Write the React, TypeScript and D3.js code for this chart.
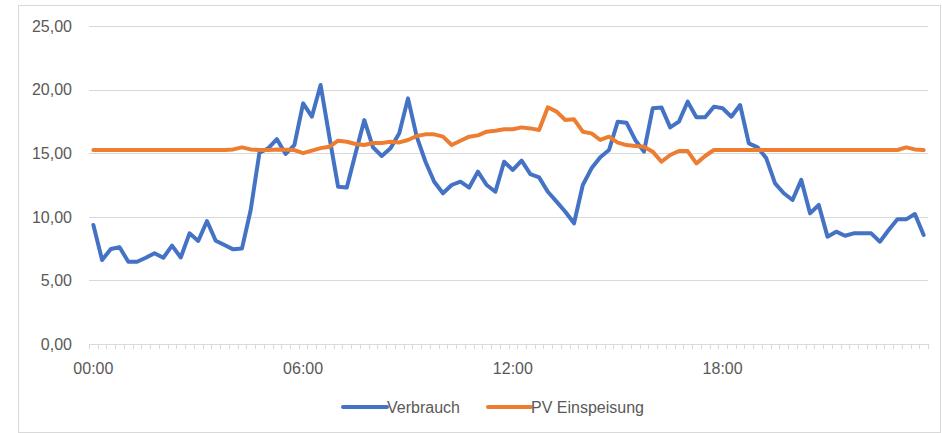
import React from "react";
import * as d3 from "d3";

const categories: string[] = d3.range(96).map((i) => {
  const h = Math.floor(i / 4);
  const m = (i % 4) * 15;
  return `${String(h).padStart(2, "0")}:${String(m).padStart(2, "0")}`;
});

const xTickLabels = ["00:00", "06:00", "12:00", "18:00"];
const yTicks = [0, 5, 10, 15, 20, 25];

const verbrauch = [
  9.36, 6.6, 7.47, 7.6, 6.47, 6.47, 6.78, 7.13, 6.78, 7.73,
  6.8, 8.7, 8.1, 9.67, 8.12, 7.78, 7.44, 7.5, 10.53, 15.04,
  15.38, 16.1, 14.94, 15.64, 18.92, 17.87, 20.36, 16.3, 12.37, 12.3,
  15.0, 17.6, 15.46, 14.78, 15.38, 16.56, 19.31, 16.3, 14.33, 12.76,
  11.85, 12.5, 12.76, 12.3, 13.55, 12.5, 11.97, 14.33, 13.68, 14.41,
  13.36, 13.1, 11.97, 11.19, 10.4, 9.49, 12.5, 13.81, 14.68, 15.25,
  17.48, 17.4, 16.04, 15.12, 18.53, 18.6, 17.03, 17.48, 19.05, 17.82,
  17.82, 18.66, 18.53, 17.87, 18.79, 15.77, 15.46, 14.6, 12.63, 11.85,
  11.32, 12.9, 10.27, 10.93, 8.44, 8.83, 8.51, 8.7, 8.7, 8.7,
  8.04, 8.96, 9.8, 9.8, 10.22, 8.57,
];

const pvEinspeisung = [
  15.25, 15.25, 15.25, 15.25, 15.25, 15.25, 15.25, 15.25, 15.25, 15.25,
  15.25, 15.25, 15.25, 15.25, 15.25, 15.25, 15.3, 15.46, 15.3, 15.25,
  15.25, 15.3, 15.28, 15.25, 15.0, 15.2, 15.4, 15.5, 15.98, 15.9,
  15.72, 15.64, 15.8, 15.8, 15.9, 15.85, 16.04, 16.35, 16.48, 16.48,
  16.3, 15.64, 15.98, 16.3, 16.4, 16.69, 16.77, 16.88, 16.88, 17.03,
  16.95, 16.82, 18.61, 18.27, 17.61, 17.66, 16.69, 16.56, 16.04, 16.3,
  15.83, 15.64, 15.57, 15.51, 15.12, 14.33, 14.86, 15.17, 15.17, 14.2,
  14.78, 15.25, 15.25, 15.25, 15.25, 15.25, 15.25, 15.25, 15.25, 15.25,
  15.25, 15.25, 15.25, 15.25, 15.25, 15.25, 15.25, 15.25, 15.25, 15.25,
  15.25, 15.25, 15.25, 15.46, 15.3, 15.25,
];

const seriesNames = ["Verbrauch", "PV Einspeisung"];
const seriesColors = ["#4472C4", "#ED7D31"];

const W = 942;
const H = 433;
const FONT = "'Liberation Sans', Arial, sans-serif";
const TEXT = "#595959";

export default function App() {
  const x0 = 89;
  const x1 = 928;
  const x = d3.scalePoint<string>().domain(categories).range([x0, x1]).padding(0.5);
  const step = x.step();
  const y = d3.scaleLinear().domain([0, 25]).range([344, 26]);

  const line = d3
    .line<number>()
    .x((_, i) => x(categories[i]) as number)
    .y((d) => y(d));

  const series = [verbrauch, pvEinspeisung];
  const fmt = (v: number) => v.toFixed(2).replace(".", ",");

  const legendItems = [
    { lx: 343, tx: 387 },
    { lx: 488, tx: 531 },
  ];

  return (
    <svg
      width={W}
      height={H}
      style={{ position: "absolute", left: 0, top: 0, background: "#fff" }}
      fontFamily={FONT}
    >
      <rect x={18.5} y={5.5} width={922} height={427} fill="#fff" stroke="#d9d9d9" strokeWidth={1} />
      {yTicks.slice(1).map((t) => (
        <line key={t} x1={x0} x2={x1} y1={Math.round(y(t)) + 0.5} y2={Math.round(y(t)) + 0.5} stroke="#d9d9d9" strokeWidth={1} />
      ))}
      {yTicks.map((t) => (
        <text key={"l" + t} x={72} y={y(t)} dy="0.36em" textAnchor="end" fontSize={16} fill={TEXT}>
          {fmt(t)}
        </text>
      ))}
      <line x1={x0} x2={x1} y1={Math.round(y(0)) + 0.5} y2={Math.round(y(0)) + 0.5} stroke="#d9d9d9" strokeWidth={1} />
      {d3.range(categories.length + 1).map((i) => {
        const xx = Math.round(x0 + i * step) + 0.5;
        return <line key={"t" + i} x1={xx} x2={xx} y1={y(0)} y2={y(0) + 5} stroke="#d9d9d9" strokeWidth={1} />;
      })}
      {xTickLabels.map((lab) => (
        <text key={lab} x={x(lab)} y={374} textAnchor="middle" fontSize={16} fill={TEXT}>
          {lab}
        </text>
      ))}
      {series.map((s, k) => (
        <path
          key={k}
          d={line(s) || ""}
          fill="none"
          stroke={seriesColors[k]}
          strokeWidth={4}
          strokeLinejoin="round"
          strokeLinecap="round"
        />
      ))}
      {legendItems.map((it, k) => (
        <g key={"lg" + k}>
          <line x1={it.lx} x2={it.tx} y1={407} y2={407} stroke={seriesColors[k]} strokeWidth={4} strokeLinecap="round" />
          <text x={it.tx} y={407} dy="0.36em" fontSize={16} fill={TEXT}>
            {seriesNames[k]}
          </text>
        </g>
      ))}
    </svg>
  );
}
